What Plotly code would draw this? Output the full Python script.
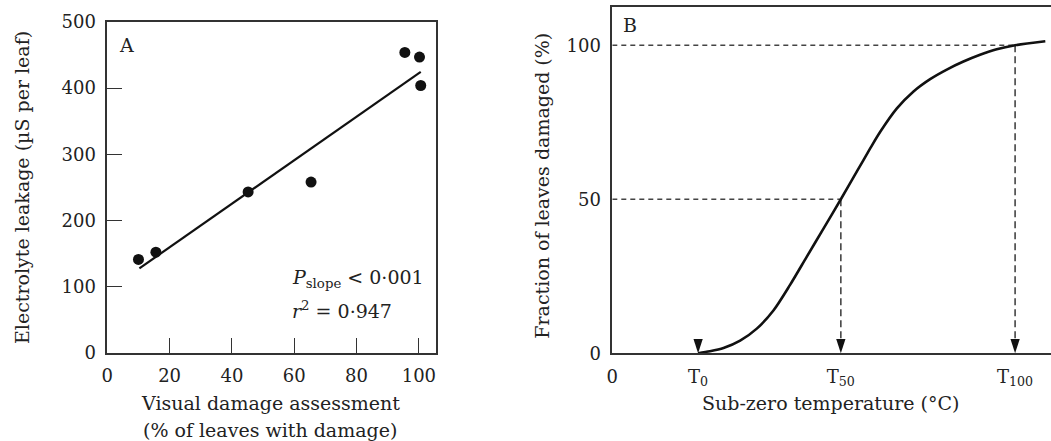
import plotly.graph_objects as go

# ---------------- data ----------------
# Panel A: visual damage (%) vs electrolyte leakage (uS per leaf)
damage_pct = [10.0, 15.6, 45.2, 65.4, 95.5, 100.2, 100.6]
leakage = [141, 152, 243, 258, 454, 447, 404]
fit_x = [10.3, 100.6]
fit_y = [127.5, 424.5]
a_xticks = [0, 20, 40, 60, 80, 100]
a_yticks = [0, 100, 200, 300, 400, 500]

# Panel B: schematic damage curve
T0, T50, T100 = 19.6, 52.2, 92.0
curve_x = [19.6, 22.3, 25.4, 29.2, 33.0, 36.8, 40.6, 44.4, 48.2, 52.2, 55.9,
           58.9, 61.2, 65.0, 68.8, 72.6, 76.4, 80.2, 84.0, 87.8, 92.0, 98.9]
curve_y = [0, 0.64, 1.7, 4.1, 8.0, 13.9, 22.2, 31.3, 40.4, 50.0, 59.1,
           66.5, 71.9, 79.5, 85.0, 89.0, 92.1, 94.7, 96.9, 98.7, 100.0, 101.3]
b_xticks = [0, T0, T50, T100]
b_xticktext = ["0", "T<sub>0</sub>", "T<sub>50</sub>", "T<sub>100</sub>"]
b_yticks = [0, 50, 100]

W, H = 1051, 441
FONT = "DejaVu Serif"
INK = "#222222"
AX = "#333333"

def px(x):
    return x / W

def py(y):
    return 1 - y / H

fig = go.Figure()

# Panel A
fig.add_trace(go.Scatter(x=fit_x, y=fit_y, mode="lines",
                         line=dict(color="#111111", width=2.2),
                         xaxis="x", yaxis="y", showlegend=False))
fig.add_trace(go.Scatter(x=damage_pct, y=leakage, mode="markers",
                         marker=dict(color="#111111", size=11),
                         xaxis="x", yaxis="y", showlegend=False))

# Panel B dashed guides
dash_h = dict(color="#444444", width=1.4, dash="5px,4px")
dash_v = dict(color="#444444", width=1.6, dash="7px,4px")
fig.add_trace(go.Scatter(x=[0, T50], y=[50, 50], mode="lines", line=dash_h,
                         xaxis="x2", yaxis="y2", showlegend=False))
fig.add_trace(go.Scatter(x=[0, T100], y=[100, 100], mode="lines", line=dash_h,
                         xaxis="x2", yaxis="y2", showlegend=False))
fig.add_trace(go.Scatter(x=[T50, T50], y=[50, 0], mode="lines", line=dash_v,
                         xaxis="x2", yaxis="y2", showlegend=False))
fig.add_trace(go.Scatter(x=[T100, T100], y=[100, 0], mode="lines", line=dash_v,
                         xaxis="x2", yaxis="y2", showlegend=False))
# curve
fig.add_trace(go.Scatter(x=curve_x, y=curve_y, mode="lines",
                         line=dict(color="#111111", width=2.6, shape="spline", smoothing=0.8),
                         xaxis="x2", yaxis="y2", showlegend=False))
# arrowheads
fig.add_trace(go.Scatter(x=[T0, T50, T100], y=[0, 0, 0], mode="markers",
                         marker=dict(symbol="arrow", angle=180, size=15, color="#111111",
                                     line=dict(width=0)),
                         xaxis="x2", yaxis="y2", showlegend=False, cliponaxis=False))

tickfont = dict(family=FONT, size=18, color=INK)

fig.update_layout(
    width=W, height=H, autosize=False,
    margin=dict(l=0, r=0, t=0, b=0),
    paper_bgcolor="white", plot_bgcolor="white",
    font=dict(family=FONT, color=INK),
    xaxis=dict(domain=[px(107.3), px(436)], range=[0, 105.5], anchor="y",
               tickvals=a_xticks, ticks="inside", ticklen=15, tickwidth=1.4, tickcolor=AX,
               showline=True, linecolor=AX, linewidth=1.5, mirror=True,
               showgrid=False, zeroline=False, tickfont=tickfont,
               ticklabelstandoff=6, automargin=False),
    yaxis=dict(domain=[py(352.7), py(22)], range=[0, 500], anchor="x",
               tickvals=a_yticks, ticks="inside", ticklen=15, tickwidth=1.4, tickcolor=AX,
               showline=True, linecolor=AX, linewidth=1.5, mirror=True,
               showgrid=False, zeroline=False, tickfont=tickfont,
               ticklabelstandoff=6, automargin=False),
    xaxis2=dict(domain=[px(612.3), 1.0], range=[0, 100.2], anchor="y2",
                tickvals=b_xticks, ticktext=b_xticktext, ticks="",
                showline=True, linecolor=AX, linewidth=1.5, mirror=True,
                showgrid=False, zeroline=False, tickfont=tickfont,
                ticklabelstandoff=6, automargin=False),
    yaxis2=dict(domain=[py(353.3), py(6.7)], range=[0, 112.5], anchor="x2",
                tickvals=b_yticks, ticks="",
                showline=True, linecolor=AX, linewidth=1.5, mirror=False,
                showgrid=False, zeroline=False, tickfont=tickfont,
                ticklabelstandoff=6, automargin=False),
)

tfont = dict(family=FONT, size=19, color=INK)
ann = [
    dict(text="A", x=px(126.5), y=py(44.5), font=tfont),
    dict(text="B", x=px(630.5), y=py(25.5), font=tfont),
    dict(text="<i>P</i><sub>slope</sub> &lt; 0·001", x=px(290), y=py(278),
         xanchor="left", font=tfont),
    dict(text="<i>r</i><sup>2</sup> = 0·947", x=px(290), y=py(310),
         xanchor="left", font=tfont),
    dict(text="Electrolyte leakage (µS per leaf)", x=px(22), y=py(188),
         textangle=-90, font=tfont),
    dict(text="Visual damage assessment", x=px(270), y=py(403), font=tfont),
    dict(text="(% of leaves with damage)", x=px(270), y=py(430), font=tfont),
    dict(text="Fraction of leaves damaged (%)", x=px(541.7), y=py(186),
         textangle=-90, font=tfont),
    dict(text="Sub-zero temperature (°C)", x=px(830), y=py(403), font=tfont),
]
for a in ann:
    a.setdefault("xanchor", "center")
    a.setdefault("yanchor", "middle")
    fig.add_annotation(xref="paper", yref="paper", showarrow=False, **a)

fig.write_html("out.html", config={"displayModeBar": False},
               post_script="document.body.style.margin='0px';document.body.style.overflow='hidden';")
